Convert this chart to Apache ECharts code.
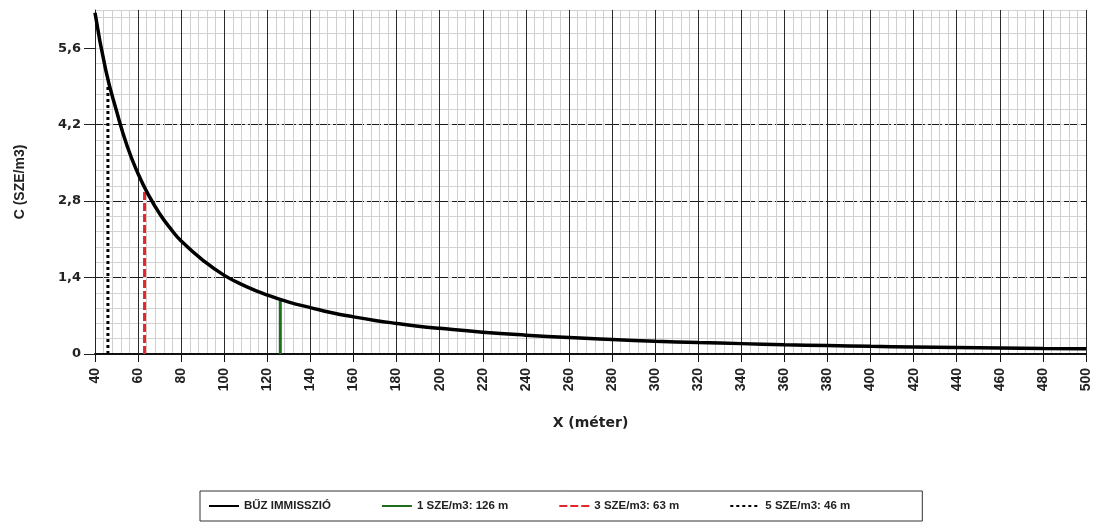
<!DOCTYPE html>
<html><head><meta charset="utf-8">
<script src="https://cdn.jsdelivr.net/npm/echarts@6/dist/echarts.min.js"></script>
<style>html,body{margin:0;padding:0;background:#fff}#c{width:1094px;height:524px}</style>
</head><body><div id="c"></div>
<script>
// Curve: distance (m) -> concentration (SZE/m3)
const xValues = [40,45,50,55,60,65,70,75,80,90,100,110,120,130,140,150,160,170,180,190,200,220,240,260,280,300,320,340,360,380,400,420,440,460,480,500];
const cValues = [6.25,5.2,4.45,3.8,3.3,2.9,2.57,2.3,2.07,1.72,1.44,1.24,1.08,0.95,0.85,0.755,0.68,0.615,0.56,0.51,0.47,0.4,0.345,0.3,0.265,0.235,0.21,0.19,0.17,0.155,0.14,0.13,0.12,0.11,0.1,0.095];
// Threshold marker lines
const seriesNames = ['BŰZ IMMISSZIÓ', '1 SZE/m3: 126 m', '3 SZE/m3: 63 m', '5 SZE/m3: 46 m'];
const markerX = [126, 63, 46];
const markerC = [1, 3, 4.9];
// Tick labels
const yTicks = [0, 1.4, 2.8, 4.2, 5.6];
const xTickStep = 20;

const chart = echarts.init(document.getElementById('c'), null, {renderer: 'canvas'});
const markerStyles = [
  {color: '#1d6f1d', type: 'solid'},
  {color: '#e3262a', type: [8, 3]},
  {color: '#000000', type: [3, 3]}
];
const markerSeries = markerX.map((x, i) => ({
  type: 'line', name: seriesNames[i + 1],
  data: [[x, 0], [x, markerC[i]]],
  symbol: 'none', showSymbol: false,
  lineStyle: {color: markerStyles[i].color, width: 3, type: markerStyles[i].type},
  itemStyle: {color: markerStyles[i].color},
  z: 3
}));

chart.setOption({
  animation: false,
  backgroundColor: '#fff',
  grid: {left: 95, right: 8, top: 10, bottom: 170, containLabel: false},
  legend: {
    data: seriesNames,
    left: 200, top: 491,
    orient: 'horizontal',
    padding: [9, 72, 9, 8],
    itemGap: 50, itemWidth: 30, itemHeight: 10,
    itemStyle: {opacity: 0},
    borderColor: '#333', borderWidth: 1,
    textStyle: {fontFamily: 'Liberation Sans, Arial', fontWeight: 'bold', fontSize: 11.5, color: '#222'}
  },
  xAxis: [{
    type: 'value', min: 40, max: 500, interval: xTickStep,
    name: 'X (méter)', nameLocation: 'middle', nameGap: 62,
    nameTextStyle: {fontFamily: 'DejaVu Sans', fontWeight: 'bold', fontSize: 14, color: '#222'},
    axisLine: {show: true, onZero: false, lineStyle: {color: '#111', width: 2}},
    axisTick: {show: true, length: 8, lineStyle: {color: '#111', width: 1}},
    axisLabel: {rotate: 90, margin: 14, fontFamily: 'Liberation Sans, Arial', fontWeight: 'bold', fontSize: 14, color: '#222'},
    splitLine: {show: true, lineStyle: {color: '#2a2a2a', width: 1, type: 'solid'}},
    minorTick: {show: false, splitNumber: 5},
    minorSplitLine: {show: true, lineStyle: {color: '#cfcfcf', width: 1}},
    z: 1
  }],
  yAxis: [{
    type: 'value', min: 0, max: 6.3, interval: 1.4,
    name: 'C (SZE/m3)', nameLocation: 'middle', nameGap: 68,
    nameTextStyle: {fontFamily: 'Liberation Sans, Arial', fontWeight: 'bold', fontSize: 14, color: '#222'},
    axisLine: {show: true, onZero: false, lineStyle: {color: '#222', width: 1}},
    axisTick: {show: true, length: 11, customValues: yTicks, lineStyle: {color: '#222'}},
    axisLabel: {margin: 14, customValues: yTicks, fontFamily: 'DejaVu Sans', fontWeight: 'bold', fontSize: 13, color: '#222',
      formatter: v => String(v).replace('.', ',')},
    splitLine: {show: true, showMaxLine: false, lineStyle: {color: '#1a1a1a', width: 1, type: [14, 3]}},
    z: 1
  }, {
    type: 'value', min: 0, max: 6.3, interval: 0.28,
    axisLine: {show: false}, axisTick: {show: false}, axisLabel: {show: false},
    splitLine: {show: true, lineStyle: {color: '#d3d3d3', width: 1}},
    z: 0
  }],
  series: markerSeries.concat([{
    type: 'line', name: seriesNames[0],
    data: xValues.map((x, i) => [x, cValues[i]]),
    symbol: 'none', showSymbol: false,
    smooth: 0.5,
    lineStyle: {color: '#000', width: 3.5},
    itemStyle: {color: '#000'},
    z: 4
  }])
});
</script>
</body></html>
